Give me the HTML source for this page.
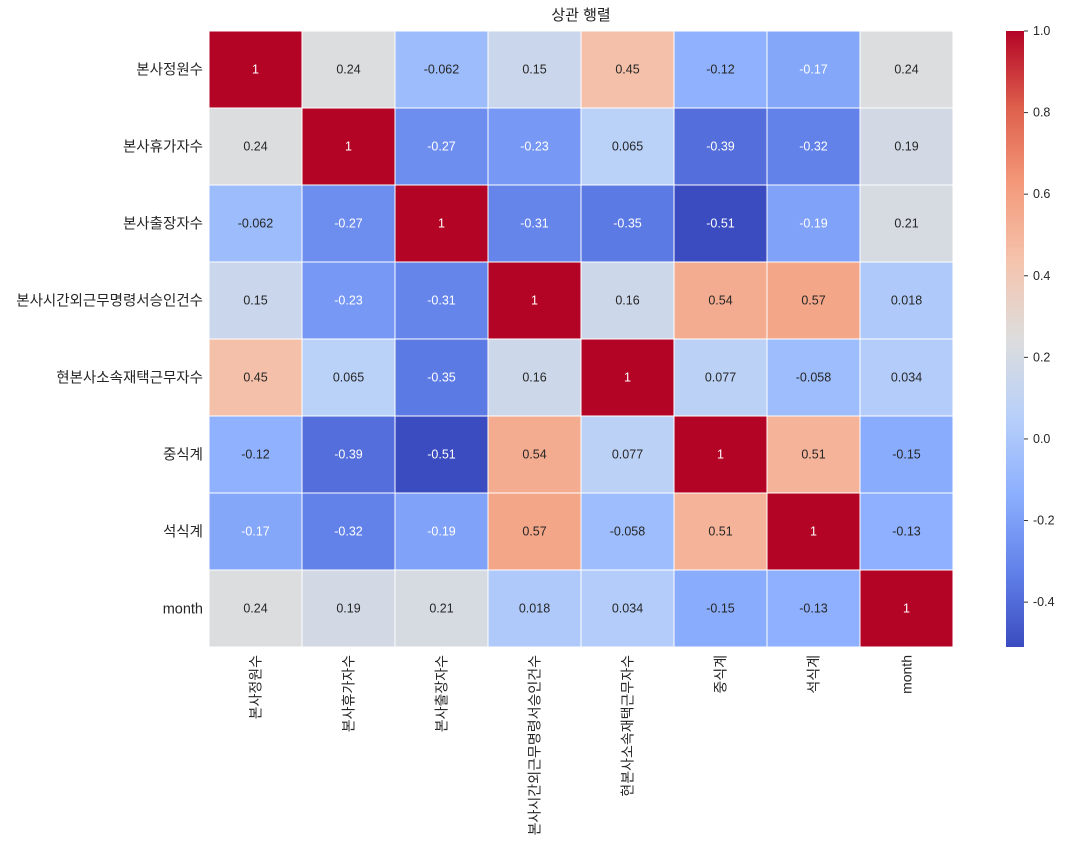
<!DOCTYPE html>
<html><head><meta charset="utf-8"><style>
body{margin:0;background:#fff;font-family:"Liberation Sans","Noto Sans CJK KR",sans-serif;}
</style></head><body>
<svg id="c" width="1069" height="856" xmlns="http://www.w3.org/2000/svg" style="font-family:'Liberation Sans','Noto Sans CJK KR',sans-serif">
<rect width="1069" height="856" fill="#fff"/>
<text x="581" y="20" text-anchor="middle" font-size="15" fill="#222">상관 행렬</text>
</svg>
<script>
const labels=["본사정원수","본사휴가자수","본사출장자수","본사시간외근무명령서승인건수","현본사소속재택근무자수","중식계","석식계","month"];
const row0=[1,0.24,-0.062,0.15,0.45,-0.12,-0.17,0.24];
const row1=[0.24,1,-0.27,-0.23,0.065,-0.39,-0.32,0.19];
const row2=[-0.062,-0.27,1,-0.31,-0.35,-0.51,-0.19,0.21];
const row3=[0.15,-0.23,-0.31,1,0.16,0.54,0.57,0.018];
const row4=[0.45,0.065,-0.35,0.16,1,0.077,-0.058,0.034];
const row5=[-0.12,-0.39,-0.51,0.54,0.077,1,0.51,-0.15];
const row6=[-0.17,-0.32,-0.19,0.57,-0.058,0.51,1,-0.13];
const row7=[0.24,0.19,0.21,0.018,0.034,-0.15,-0.13,1];
const cbTicks=[-0.4,-0.2,0.0,0.2,0.4,0.6,0.8,1.0];
const rows=[row0,row1,row2,row3,row4,row5,row6,row7];
const vmin=-0.51,vmax=1.0;
const X0=209,Y0=31,W=744,H=616;
const cw=W/labels.length,ch=H/labels.length;
const cm=[[59,76,192],[98,130,234],[141,176,254],[184,208,249],[221,221,221],[245,196,173],[244,154,123],[222,96,77],[180,4,38]];
function color(v){let t=(v-vmin)/(vmax-vmin);t=Math.max(0,Math.min(1,t));const p=t*8,i=Math.min(7,Math.floor(p)),f=p-i;
return cm[i].map((a,k)=>Math.round(a+(cm[i+1][k]-a)*f));}
const svg=document.getElementById('c');const NS="http://www.w3.org/2000/svg";
function mk(tag,at,txt){const e=document.createElementNS(NS,tag);for(const k in at)e.setAttribute(k,at[k]);if(txt!==undefined)e.textContent=txt;svg.appendChild(e);return e;}
rows.forEach((r,i)=>r.forEach((v,j)=>{
 const c=color(v);
 const rc=mk('rect',{x:X0+j*cw,y:Y0+i*ch,width:cw,height:ch,fill:`rgb(${c})`,stroke:'#fff','stroke-width':1});
 
 
 const white=(v<=-0.16||v>=0.75);
 const t=mk('text',{x:X0+(j+0.5)*cw,y:Y0+(i+0.5)*ch+4,'text-anchor':'middle','font-size':12.5,fill:white?'#fff':'#262626'},String(v));
 
 
}));
labels.forEach((l,i)=>{
 const t=mk('text',{x:X0-6,y:Y0+(i+0.5)*ch+5,'text-anchor':'end','font-size':14.5,fill:'#262626'},l);
 
 
 const x=X0+(i+0.5)*cw;
 const u=mk('text',{x:x,y:655,transform:`rotate(-90 ${x} 655) translate(0 5)`,'text-anchor':'end','font-size':14,fill:'#262626'},l);
 
 
});
const CX=1006,CW=18;
const defs=mk('defs',{});const g=document.createElementNS(NS,'linearGradient');g.setAttribute('id','cb');g.setAttribute('x1',0);g.setAttribute('y1',1);g.setAttribute('x2',0);g.setAttribute('y2',0);defs.appendChild(g);
cm.forEach((c,k)=>{const s=document.createElementNS(NS,'stop');s.setAttribute('offset',k/8);s.setAttribute('stop-color',`rgb(${c})`);g.appendChild(s);});
const cb=mk('rect',{x:CX,y:Y0,width:CW,height:H,fill:'url(#cb)'});


cbTicks.forEach(v=>{const y=Y0+(vmax-v)/(vmax-vmin)*H;
 mk('line',{x1:CX+CW,x2:CX+CW+4,y1:y,y2:y,stroke:'#333'});
 const t=mk('text',{x:CX+CW+9,y:y+4,'font-size':12.5,fill:'#262626'},v.toFixed(1));
 
 
});
</script>
</body></html>
